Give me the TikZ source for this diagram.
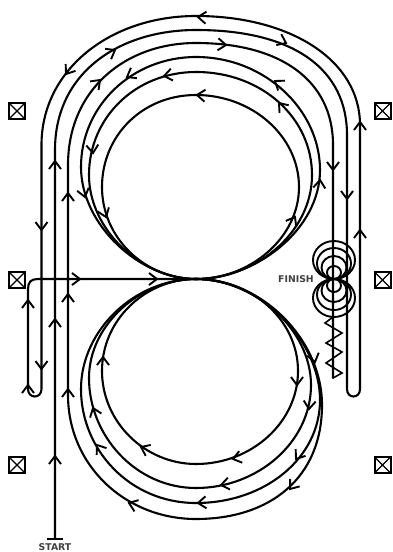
\documentclass[tikz,border=0pt]{standalone}
\usepackage{fontspec}
\setmainfont{DejaVu Sans}
\tikzset{
  track/.style={line width=2.1pt,black,line join=round,line cap=round},
  chevron/.style={line width=1.9pt,black,line join=miter},
  finishring/.style={line width=1.9pt,black},
  zigzag/.style={line width=1.6pt,black,line join=miter},
  markerbox/.style={draw=black,line width=2pt,minimum size=16pt,inner sep=0pt,path picture={
    \draw[line width=1.3pt] (path picture bounding box.north west) -- (path picture bounding box.south east)
      (path picture bounding box.north east) -- (path picture bounding box.south west);}},
  tracklabel/.style={font=\bfseries\fontsize{9.3}{10}\selectfont,text=black!75,inner sep=0pt}
}
\newcommand{\chv}[3]{\draw[chevron,shift={(#1,#2)},rotate=#3] (-8,-6) -- (0,0) -- (-8,6);}
\begin{document}
\begin{tikzpicture}[x=1pt,y=-1pt]
\useasboundingbox[fill=white] (0,0) rectangle (392,552);

% markers
\foreach \mx/\my/\mn in {17/111/a,17/280/b,17/465/c,382.5/111/d,382.5/280/e,382.5/465/f}
  \node[markerbox] (m\mn) at (\mx,\my) {};

% labels
\node[tracklabel] (finish) at (296,279) {FINISH};
\node[tracklabel] (start) at (55,547) {START};
\coordinate (startbar) at (55,539);

% start, across the top, U-turn, back over the top, U-turn, into centre
\draw[track] (startbar) -- (55,150)
  .. controls (55,72) and (120,30) .. (196,30)
  .. controls (295,30) and (347,70) .. (347,135)
  -- (347,389) .. controls (347,399) and (360,399) .. (360,389)
  -- (360,125)
  .. controls (360,60) and (290,16) .. (196,16)
  .. controls (110,16) and (41.5,70) .. (41.5,145)
  -- (41.5,389) .. controls (41.5,399) and (28,399) .. (28,389)
  -- (28,289) .. controls (28,282) and (31,279) .. (38,279)
  -- (196,279)
  % outer lower loop, then up and over to finish
  .. controls (262,279) and (322,340) .. (322,405)
  .. controls (322,478) and (270,519) .. (196,519)
  .. controls (125,519) and (68,465) .. (68,395)
  -- (68,165)
  .. controls (68,90) and (125,43) .. (196,43)
  .. controls (280,43) and (333,80) .. (333,145)
  -- (333,378);
\draw[line width=2.2pt] (47,539) -- (63,539);

% upper loops
\draw[track] (196,279) .. controls (255,279) and (320,230) .. (320,170)
  .. controls (320,110) and (265,57) .. (196,57)
  .. controls (132,57) and (81,106) .. (81,167)
  .. controls (81,225) and (140,279) .. (196,279);
\draw[track] (196,279) .. controls (255,279) and (312,233) .. (312,175)
  .. controls (312,118) and (262,72) .. (196,72)
  .. controls (135,72) and (89,118) .. (89,175)
  .. controls (89,230) and (142,279) .. (196,279);
\draw[track] (196,279) .. controls (250,279) and (299,238) .. (299,187)
  .. controls (299,136) and (252,95) .. (196,95)
  .. controls (142,95) and (102,136) .. (102,187)
  .. controls (102,238) and (145,279) .. (196,279);

% lower loops
\draw[track] (196,279) .. controls (260,279) and (320,340) .. (320,400)
  .. controls (320,458) and (265,503) .. (196,503)
  .. controls (130,503) and (81,450) .. (81,389)
  .. controls (81,330) and (135,279) .. (196,279);
\draw[track] (196,279) .. controls (255,279) and (311,330) .. (311,385)
  .. controls (311,442) and (258,488) .. (196,488)
  .. controls (136,488) and (89,436) .. (89,378)
  .. controls (89,325) and (140,279) .. (196,279);
\draw[track] (196,279) .. controls (252,279) and (298,320) .. (298,371)
  .. controls (298,422) and (252,464) .. (196,464)
  .. controls (145,464) and (102,422) .. (102,371)
  .. controls (102,320) and (145,279) .. (196,279);

% finish rings
\foreach \ry/\rx in {19/21,15.5/17,11.5/12.5,6.5/7}{
  \draw[finishring] (334,279-\ry) ellipse [x radius=\rx,y radius=\ry];
  \draw[finishring] (334,279+\ry) ellipse [x radius=\rx,y radius=\ry];
}
% zigzag
\draw[zigzag] (333,317) -- (325,323) -- (342,333) -- (326,343) -- (342,352) -- (326,363) -- (342,373) -- (333,378);

% arrowheads: x, y, heading
\chv{66}{74}{235}
\chv{115}{50}{30}
\chv{100}{80}{45}
\chv{127}{77}{210}
\chv{164}{76}{190}
\chv{93}{153}{275}
\chv{85}{197}{285}
\chv{106}{217}{290}
\chv{41.5}{230}{270}
\chv{55}{161}{90}
\chv{68}{193}{90}
\chv{198}{17}{175}
\chv{286}{43}{335}
\chv{226}{45}{355}
\chv{275}{81}{145}
\chv{279}{103}{130}
\chv{197}{95}{175}
\chv{333}{170}{270}
\chv{347}{199}{270}
\chv{360}{122}{90}
\chv{360}{230}{90}
\chv{320}{180}{85}
\chv{295}{217}{60}
\chv{80}{279}{0}
\chv{157}{279}{0}
\chv{28}{300}{90}
\chv{41.5}{369}{270}
\chv{28}{385}{90}
\chv{55}{319}{90}
\chv{68}{294}{90}
\chv{68}{389}{90}
\chv{55}{456}{90}
\chv{103}{357}{90}
\chv{93}{408}{110}
\chv{97}{445}{125}
\chv{129}{503}{160}
\chv{141}{447}{155}
\chv{297}{385}{270}
\chv{309}{409}{265}
\chv{296}{459}{235}
\chv{290}{489}{232}
\chv{233}{459}{195}
\chv{221}{485}{190}
\chv{198}{503}{185}
\chv{315}{362}{285}
\end{tikzpicture}
\end{document}
